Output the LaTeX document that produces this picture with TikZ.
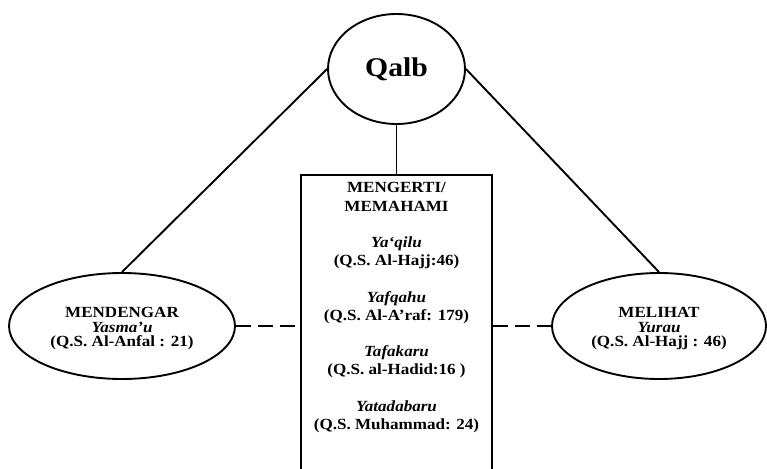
\documentclass[tikz,border=0pt]{standalone}
\usepackage{fontspec}
\setmainfont[FakeStretch=1.1]{Liberation Serif}
\usetikzlibrary{positioning, shapes.geometric}
\newcommand{\tinggi}{\rule{0pt}{16pt}}
\tikzset{
  qalb/.style={draw, ellipse, line width=1.9pt, inner sep=0pt, minimum width=137pt, minimum height=110pt, font=\fontsize{27}{30}\selectfont\bfseries},
  indra/.style={draw, ellipse, line width=1.9pt, inner sep=0pt, align=center, minimum height=106pt, font=\fontsize{15.5}{14.5}\selectfont\bfseries},
  kotak/.style={draw, line width=1.9pt, anchor=north, minimum width=191pt, minimum height=320pt},
  isi/.style={align=center, inner sep=0pt, font=\fontsize{15.5}{18.2}\selectfont\bfseries},
  garis/.style={line width=1.9pt},
  putus/.style={line width=1.9pt, dash pattern=on 15pt off 7pt}
}

\begin{document}
\begin{tikzpicture}[x=1pt, y=-1pt]
    \useasboundingbox (0,0) rectangle (767,468);
    \clip (0,0) rectangle (767,468);
    \node[qalb] (qalb) at (396.5,69) {Qalb};
    \node[indra, minimum width=226pt] (dengar) at (122,326) {\tinggi MENDENGAR\\ \textit{Yasma’u}\\ (Q.S. Al-Anfal : 21)};
    \node[indra, minimum width=214pt] (lihat) at (659,326) {\tinggi MELIHAT\\ \textit{Yurau}\\ (Q.S. Al-Hajj : 46)};
    \node[kotak] (paham) at (396.5,174) {};
    \node[isi, below=8.5pt of paham.north] (makna) {MENGERTI/\\ MEMAHAMI\\[18.2pt]
      \textit{Ya‘qilu}\\ (Q.S. Al-Hajj:46)\\[18.2pt]
      \textit{Yafqahu}\\ (Q.S. Al-A’raf: 179)\\[18.2pt]
      \textit{Tafakaru}\\ (Q.S. al-Hadid:16 )\\[18.2pt]
      \textit{Yatadabaru}\\ (Q.S. Muhammad: 24)};

    \draw[garis] (qalb.west) -- (dengar.north);
    \draw[garis] (qalb.east) -- (lihat.north);
    \draw[garis] (qalb.south) -- (paham.north);
    \draw[putus] (dengar.east) -- (dengar.east -| paham.west);
    \draw[putus] (paham.east |- lihat.west) -- (lihat.west);
\end{tikzpicture}
\end{document}
